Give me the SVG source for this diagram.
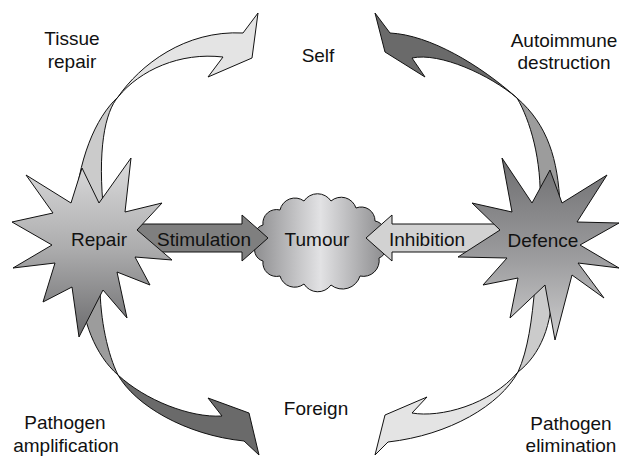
<svg xmlns="http://www.w3.org/2000/svg" width="620" height="458" viewBox="0 0 620 458">
<defs>
<linearGradient id="gRepair" x1="0" y1="0" x2="0" y2="1">
<stop offset="0" stop-color="#dcdcdd"/>
<stop offset="0.5" stop-color="#adadae"/>
<stop offset="1" stop-color="#6c6c6e"/>
</linearGradient>
<linearGradient id="gDefence" x1="0" y1="0" x2="0" y2="1">
<stop offset="0" stop-color="#6e6e70"/>
<stop offset="0.55" stop-color="#9c9c9e"/>
<stop offset="1" stop-color="#cdcdce"/>
</linearGradient>
<linearGradient id="gCloud" x1="0" y1="0" x2="1" y2="0">
<stop offset="0" stop-color="#8e8e90"/>
<stop offset="0.5" stop-color="#e2e2e4"/>
<stop offset="1" stop-color="#8a8a8c"/>
</linearGradient>
<style>
.ol{stroke:#111;stroke-width:1;stroke-linejoin:miter}
.t{font-family:"Liberation Sans",Arial,sans-serif;font-size:19px;fill:#111;text-anchor:middle}
.light{fill:#e4e4e4}
.lightmid{fill:#cbcbcb}
.dark{fill:#6a6a6a}
.darkmid{fill:#9c9c9c}
</style>
</defs>
<rect width="620" height="458" fill="#fff"/>

<g id="tumour">
<path class="ol" fill="url(#gCloud)" d="M257,243 A11.4,11.4 0 0 1 263,225 A13.6,13.6 0 0 1 280,210 A15.3,15.3 0 0 1 304,201 A16.2,16.2 0 0 1 331,201 A15.6,15.6 0 0 1 356,208 A13.8,13.8 0 0 1 375,221 A11.8,11.8 0 0 1 383,239 A11.6,11.6 0 0 1 379,258 A15.8,15.8 0 0 1 360,276 A18.3,18.3 0 0 1 331,285 A16.2,16.2 0 0 1 304,284 A15.2,15.2 0 0 1 280,276 A13.6,13.6 0 0 1 263,261 A11.4,11.4 0 0 1 257,243 Z"/>
<text class="t" x="317" y="246">Tumour</text>
</g>

<g id="connectors">
<g id="stimulation">
<polygon class="ol" fill="#7f7f7f" points="120,224 242,224 242,215 268,238 242,261 242,252 120,252"/>
</g>
<g id="inhibition">
<polygon class="ol" fill="#d2d2d2" points="510,224 392,224 392,215 366,238 392,261 392,252 510,252"/>
</g>
<g id="tissue-repair-arrow">
<path class="ol lightmid" d="M74,215 C78,160 95,118 118,97 C105,112 97,150 104,215 Z"/>
<path class="ol light" d="M118,97 C140,65 185,30 243,33 L258,13 L252,58 L208,77 L223,57 C180,52 140,70 118,97 Z"/>
</g>
<g id="autoimmune-arrow">
<path class="ol darkmid" d="M517,98 C530,120 542,160 540,205 L560,205 C558,160 548,125 517,98 Z"/>
<path class="ol dark" d="M517,98 C480,65 430,35 390,33 L375,13 L385,52 L425,77 L412,58 C440,52 490,75 517,98 Z"/>
</g>
<g id="amplification-arrow">
<path class="ol darkmid" d="M80,285 C82,320 95,355 118,375 C108,355 100,320 100,285 Z"/>
<path class="ol dark" d="M118,375 C135,405 185,435 244,441 L259,455 L249,413 L208,398 L222,416 C190,418 145,400 118,375 Z"/>
</g>
<g id="elimination-arrow">
<path class="ol lightmid" d="M535,285 C532,320 528,350 518,372 C540,355 553,325 552,285 Z"/>
<path class="ol light" d="M518,372 C500,405 450,435 388,442 L375,455 L385,415 L427,397 L412,413 C440,418 490,405 518,372 Z"/>
</g>
<text class="t" x="204" y="246">Stimulation</text>
<text class="t" x="427" y="246">Inhibition</text>
</g>

<g id="repair">
<polygon class="ol" fill="url(#gRepair)" points="26,175 71,203 82,168 99,203 131,158 125,212 162,203 137,230 172,260 135,257 150,285 117,272 127,318 103,290 79,337 72,287 43,302 55,263 13,268 52,245 12,222 53,213"/>
<text class="t" x="99" y="246">Repair</text>
</g>

<g id="defence">
<polygon class="ol" fill="url(#gDefence)" points="502,158 532,203 550,170 562,203 607,175 577,222 619,223 580,245 619,268 578,263 604,298 572,275 555,340 545,285 510,318 518,278 483,285 507,258 458,257 500,230 472,203 512,212"/>
<text class="t" x="543" y="247">Defence</text>
</g>

<g id="label-tissue-repair">
<text class="t" x="72" y="45">Tissue</text>
<text class="t" x="72" y="68">repair</text>
</g>
<g id="label-self">
<text class="t" x="318" y="62">Self</text>
</g>
<g id="label-autoimmune">
<text class="t" x="564" y="47">Autoimmune</text>
<text class="t" x="564" y="69">destruction</text>
</g>
<g id="label-foreign">
<text class="t" x="316" y="415">Foreign</text>
</g>
<g id="label-pathogen-amplification">
<text class="t" x="65" y="429">Pathogen</text>
<text class="t" x="66" y="452">amplification</text>
</g>
<g id="label-pathogen-elimination">
<text class="t" x="571" y="430">Pathogen</text>
<text class="t" x="571" y="452">elimination</text>
</g>
</svg>
